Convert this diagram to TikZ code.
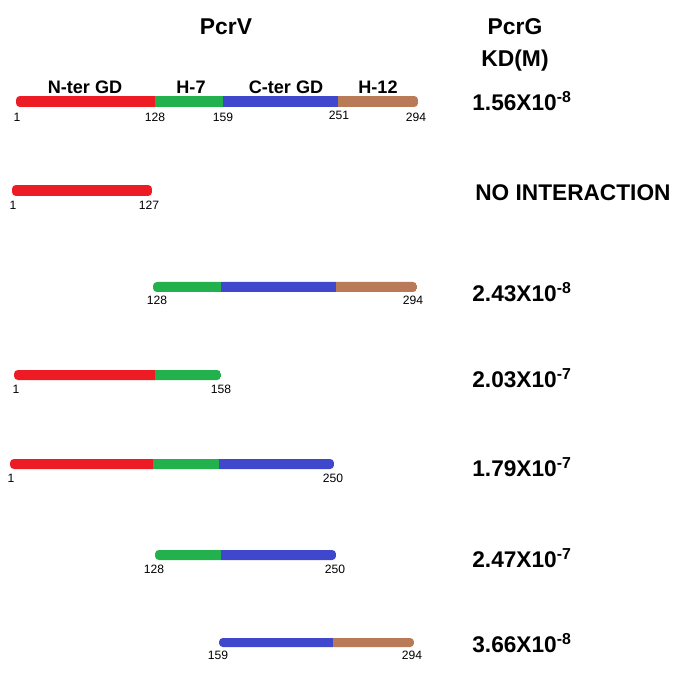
\documentclass[tikz,border=0pt]{standalone}
\usepackage{fontspec}
\setmainfont{Liberation Sans}
\usepackage{tikz}

\definecolor{ntred}{RGB}{237,28,36}
\definecolor{hsgreen}{RGB}{34,177,76}
\definecolor{ctblue}{RGB}{63,72,204}
\definecolor{hbrown}{RGB}{185,122,87}

% one coloured piece of a bar: x from, x to, y
\newcommand{\piece}[4]{\fill[#4] (#1,#3-5.5) rectangle (#2,#3+5.5);}

\begin{document}
\begin{tikzpicture}[x=0.02cm, y=-0.02cm,
  head/.style={font=\fontsize{13}{15}\selectfont\bfseries},
  domlabel/.style={font=\fontsize{10.3}{12}\selectfont\bfseries},
  resnum/.style={font=\fontsize{6.9}{8}\selectfont},
  kdval/.style={anchor=west, inner sep=0pt, font=\fontsize{12.9}{14}\selectfont\bfseries},
  barend/.style={rounded corners=2.2pt}]
  \useasboundingbox (0,0) rectangle (685,685);

  % Column heads
  \node[head] (pcrv) at (226,27) {PcrV};
  \node[head] (pcrg) at (515,27) {PcrG};
  \node[head] (kd) at (515,61) {KD(M)};

  % Full length PcrV
  \begin{scope}
    \clip[barend] (16,96) rectangle (418,107);
    \piece{16}{155}{101.5}{ntred} \piece{155}{223}{101.5}{hsgreen}
    \piece{223}{338}{101.5}{ctblue} \piece{338}{418}{101.5}{hbrown}
  \end{scope}
  \node[domlabel] (nter) at (85,87) {N-ter GD};
  \node[domlabel] (h7) at (191,87) {H-7};
  \node[domlabel] (cter) at (286,87) {C-ter GD};
  \node[domlabel] (h12) at (378,87) {H-12};
  \node[resnum] (r1a) at (17,117) {1};
  \node[resnum] (r1b) at (155,117) {128};
  \node[resnum] (r1c) at (223,117) {159};
  \node[resnum] (r1d) at (339,115) {251};
  \node[resnum] (r1e) at (416,117) {294};
  \node[kdval] (kd1) at (472,101) {1.56X10\textsuperscript{-8}};

  % 1-127
  \begin{scope}
    \clip[barend] (12,185) rectangle (152,196);
    \piece{12}{152}{190.5}{ntred}
  \end{scope}
  \node[resnum] (r2a) at (13,205) {1};
  \node[resnum] (r2b) at (149,205) {127};
  \node[kdval] (kd2) at (475,193) {NO INTERACTION};

  % 128-294
  \begin{scope}
    \clip[barend] (153,282) rectangle (417,292);
    \piece{153}{221}{287}{hsgreen} \piece{221}{336}{287}{ctblue}
    \piece{336}{417}{287}{hbrown}
  \end{scope}
  \node[resnum] (r3a) at (157,300) {128};
  \node[resnum] (r3b) at (413,300) {294};
  \node[kdval] (kd3) at (472,292) {2.43X10\textsuperscript{-8}};

  % 1-158
  \begin{scope}
    \clip[barend] (14,370) rectangle (221,380);
    \piece{14}{155}{375}{ntred} \piece{155}{221}{375}{hsgreen}
  \end{scope}
  \node[resnum] (r4a) at (16,389) {1};
  \node[resnum] (r4b) at (221,389) {158};
  \node[kdval] (kd4) at (472,378) {2.03X10\textsuperscript{-7}};

  % 1-250
  \begin{scope}
    \clip[barend] (10,459) rectangle (334,469);
    \piece{10}{153}{464}{ntred} \piece{153}{219}{464}{hsgreen}
    \piece{219}{334}{464}{ctblue}
  \end{scope}
  \node[resnum] (r5a) at (11,478) {1};
  \node[resnum] (r5b) at (333,478) {250};
  \node[kdval] (kd5) at (472,467) {1.79X10\textsuperscript{-7}};

  % 128-250
  \begin{scope}
    \clip[barend] (155,550) rectangle (336,560);
    \piece{155}{221}{555}{hsgreen} \piece{221}{336}{555}{ctblue}
  \end{scope}
  \node[resnum] (r6a) at (154,569) {128};
  \node[resnum] (r6b) at (335,569) {250};
  \node[kdval] (kd6) at (472,558) {2.47X10\textsuperscript{-7}};

  % 159-294
  \begin{scope}
    \clip[barend] (219,638) rectangle (414,647);
    \piece{219}{333}{642.5}{ctblue} \piece{333}{414}{642.5}{hbrown}
  \end{scope}
  \node[resnum] (r7a) at (218,655) {159};
  \node[resnum] (r7b) at (412,655) {294};
  \node[kdval] (kd7) at (472,643) {3.66X10\textsuperscript{-8}};
\end{tikzpicture}
\end{document}
